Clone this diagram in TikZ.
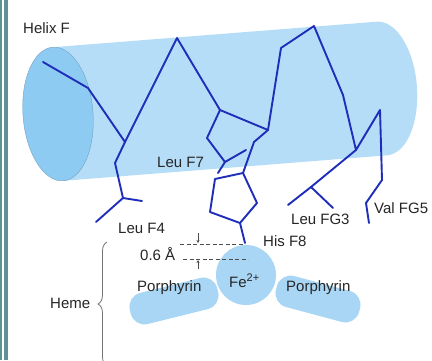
\documentclass[tikz,border=0pt]{standalone}
\usepackage{fontspec}
\setmainfont{Liberation Sans}
\usetikzlibrary{arrows.meta,decorations.pathreplacing}

\definecolor{helixblue}{HTML}{B6DDF8}
\definecolor{helixcap}{HTML}{8ECBF2}
\definecolor{hemeblue}{HTML}{A9D6F5}
\definecolor{chainblue}{HTML}{1F2EB8}
\definecolor{frameteal}{HTML}{5F8F97}

\tikzset{
	backbone/.style={draw=chainblue, line width=1.9pt, line join=round, line cap=round},
	lbl/.style={text=black!85, font=\fontsize{15}{18}\selectfont, inner sep=0pt, anchor=base west},
	gapline/.style={draw=black!70, line width=0.8pt, dash pattern=on 4pt off 2.5pt},
	gaparrow/.style={draw=black!70, line width=0.6pt, -{Stealth[length=3pt,width=3pt]}},
}

\begin{document}
\begin{tikzpicture}[x=1pt, y=-1pt]
		%%%%% START %%%%%
		\useasboundingbox (0,0) rectangle (432,360);
		\fill[white] (0,0) rectangle (432,360);
		\fill[frameteal] (0,0) rectangle (1.7,360);
		\fill[frameteal] (4,0) rectangle (8,360);
		
		% helix F cylinder
		\begin{scope}[shift={(58,114)}, rotate=4.5]
			\fill[helixblue] (0,-67) -- (325,-67) arc[start angle=-90, end angle=90, x radius=35, y radius=67] -- (0,67) -- cycle;
			\filldraw[fill=helixcap, draw=helixcap!80!black, line width=0.4pt] (0,0) ellipse [x radius=35, y radius=67];
		\end{scope}
		
		% main chain
		\draw[backbone] (43,62) -- (88,88) -- (125,142) -- (177,38) -- (220,110) -- (268,130) -- (281,48) -- (314,26) -- (343,95) -- (356,150) -- (380,110) -- (382,180) -- (366,203) -- (369,223);
		
		% side chains
		\draw[backbone] (125,142) -- (115,163) -- (123,198) -- (142,201);
		\draw[backbone] (123,198) -- (96,222);
		\draw[backbone] (220,110) -- (207,138) -- (225,162) -- (246,150);
		\draw[backbone] (225,162) -- (218,173);
		\draw[backbone] (356,150) -- (311,187) -- (288,205);
		\draw[backbone] (311,187) -- (333,208);
		\draw[backbone] (268,130) -- (254,142) -- (243,173);
		\draw[backbone] (243,173) -- (215,179) -- (210,212) -- (240,223) -- (257,203) -- cycle;
		\draw[backbone] (240,223) -- (245,243);
		
		% heme
		\fill[hemeblue, rounded corners=14pt, rotate around={14:(174,301)}] (129,285) rectangle (219,317);
		\fill[hemeblue, rounded corners=14pt, rotate around={-15:(318,299)}] (275,283) rectangle (361,315);
		\fill[hemeblue] (246,275) circle (30);
		
		\draw[gapline] (180,244) -- (245,244);
		\draw[gapline] (183,259) -- (248,259);
		\draw[gaparrow] (198,233) -- (198,243);
		\draw[gaparrow] (198,269) -- (198,260);
		
		\draw[decorate, decoration={brace, amplitude=9pt}, black!55, line width=0.8pt] (107,366) -- (107,242);
		
		\node[lbl] (helixF) at (23,33) {Helix F};
		\node[lbl] (leuF7) at (157,167) {Leu F7};
		\node[lbl] (leuF4) at (118,233) {Leu F4};
		\node[lbl] (hisF8) at (263,246) {His F8};
		\node[lbl] (leuFG3) at (291,224) {Leu FG3};
		\node[lbl] (valFG5) at (374,213) {Val FG5};
		\node[lbl] (shift) at (140,260) {0.6 Å};
		\node[lbl] (porphL) at (137,291) {Porphyrin};
		\node[lbl] (porphR) at (286,291) {Porphyrin};
		\node[lbl] (iron) at (229,287) {Fe\raisebox{6pt}{\fontsize{11}{12}\selectfont 2+}};
		\node[lbl] (heme) at (50,308) {Heme};
		%%%%% END %%%%%
\end{tikzpicture}
\end{document}
